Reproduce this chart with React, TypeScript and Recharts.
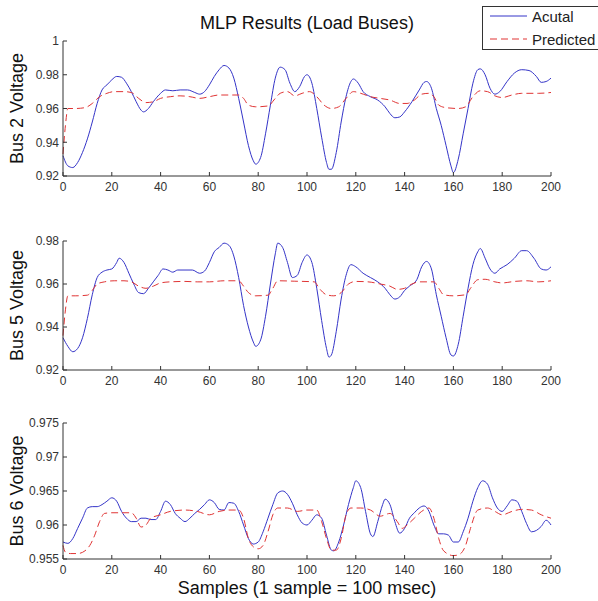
import React from "react";
import { LineChart, Line, XAxis, YAxis } from "recharts";

// [sample, voltage] pairs
const bus2Actual: [number, number][] = [
  [0, 0.932], [2, 0.926], [4, 0.925], [6, 0.928], [8, 0.934], [10, 0.942], [12, 0.952], [14, 0.963],
  [16, 0.971], [18, 0.974], [20, 0.977], [22, 0.979], [24, 0.9785], [26, 0.975], [28, 0.97], [30, 0.964],
  [32, 0.959], [33, 0.958], [35, 0.96], [37, 0.964], [40, 0.969], [42, 0.971], [45, 0.9705], [48, 0.971],
  [51, 0.971], [54, 0.9695], [56, 0.9685], [58, 0.97], [60, 0.974], [62, 0.979], [64, 0.983], [66, 0.9855],
  [68, 0.984], [70, 0.978], [72, 0.966], [74, 0.952], [76, 0.938], [78, 0.929], [79, 0.927], [81, 0.931],
  [83, 0.945], [85, 0.962], [87, 0.978], [89, 0.9845], [91, 0.983], [93, 0.975], [95, 0.97], [97, 0.973],
  [99, 0.979], [100, 0.98], [102, 0.975], [104, 0.96], [106, 0.943], [108, 0.928], [109, 0.924], [110, 0.924],
  [112, 0.934], [114, 0.952], [116, 0.967], [118, 0.976], [119, 0.9775], [121, 0.975], [123, 0.97], [126, 0.967],
  [129, 0.965], [132, 0.961], [134, 0.957], [136, 0.9545], [138, 0.955], [140, 0.958], [143, 0.964], [146, 0.971],
  [148, 0.9755], [149, 0.976], [151, 0.972], [153, 0.96], [155, 0.95], [157, 0.938], [159, 0.926], [160, 0.922],
  [162, 0.93], [164, 0.945], [166, 0.96], [168, 0.975], [170, 0.983], [171, 0.9835], [173, 0.98], [175, 0.972],
  [177, 0.9685], [179, 0.97], [182, 0.976], [185, 0.981], [188, 0.983], [191, 0.9825], [194, 0.979], [196, 0.9755],
  [198, 0.976], [200, 0.978],
];

const bus2Predicted: [number, number][] = [
  [0, 0.933], [1, 0.95], [2, 0.96], [5, 0.96], [9, 0.9605], [12, 0.963], [15, 0.967], [18, 0.969],
  [21, 0.97], [25, 0.97], [28, 0.9695], [31, 0.966], [34, 0.9635], [37, 0.964], [40, 0.966], [44, 0.967],
  [48, 0.9675], [52, 0.967], [56, 0.966], [60, 0.967], [64, 0.968], [68, 0.968], [72, 0.968], [74, 0.966],
  [76, 0.962], [79, 0.961], [84, 0.9615], [87, 0.966], [89, 0.969], [92, 0.97], [95, 0.9675], [98, 0.969],
  [101, 0.97], [104, 0.967], [107, 0.962], [110, 0.96], [113, 0.961], [116, 0.966], [119, 0.97], [122, 0.969],
  [126, 0.967], [130, 0.966], [134, 0.965], [138, 0.963], [141, 0.963], [144, 0.965], [147, 0.9685], [150, 0.969],
  [152, 0.967], [154, 0.962], [157, 0.9605], [162, 0.96], [165, 0.961], [168, 0.967], [171, 0.9705], [174, 0.97],
  [177, 0.9675], [180, 0.9665], [184, 0.968], [188, 0.969], [195, 0.969], [200, 0.9695],
];

const bus5Actual: [number, number][] = [
  [0, 0.935], [2, 0.931], [4, 0.9285], [6, 0.93], [8, 0.935], [10, 0.944], [12, 0.955], [14, 0.963],
  [16, 0.9655], [18, 0.9665], [20, 0.967], [22, 0.97], [23, 0.972], [25, 0.97], [27, 0.965], [29, 0.96],
  [31, 0.956], [33, 0.9555], [35, 0.958], [37, 0.961], [39, 0.964], [41, 0.967], [43, 0.9665], [45, 0.9655],
  [47, 0.9665], [50, 0.9665], [53, 0.9665], [56, 0.965], [58, 0.966], [60, 0.97], [62, 0.975], [64, 0.977],
  [66, 0.979], [68, 0.978], [70, 0.973], [72, 0.963], [74, 0.95], [76, 0.94], [78, 0.933], [79, 0.931],
  [81, 0.934], [83, 0.945], [85, 0.96], [87, 0.974], [88, 0.979], [90, 0.977], [92, 0.97], [94, 0.963],
  [96, 0.964], [98, 0.97], [100, 0.9735], [102, 0.97], [104, 0.958], [106, 0.943], [108, 0.93], [109, 0.926],
  [110, 0.927], [112, 0.938], [114, 0.953], [116, 0.964], [118, 0.969], [120, 0.968], [123, 0.965], [126, 0.963],
  [129, 0.961], [132, 0.958], [134, 0.955], [136, 0.953], [138, 0.954], [140, 0.957], [142, 0.959], [145, 0.962],
  [147, 0.968], [149, 0.9705], [151, 0.967], [153, 0.955], [155, 0.945], [157, 0.935], [159, 0.927], [160, 0.9265],
  [162, 0.932], [164, 0.945], [166, 0.958], [168, 0.969], [170, 0.975], [171, 0.9765], [173, 0.972], [175, 0.967],
  [177, 0.965], [179, 0.967], [182, 0.969], [185, 0.972], [188, 0.9755], [190, 0.9755], [193, 0.972], [196, 0.967],
  [198, 0.9665], [200, 0.968],
];

const bus5Predicted: [number, number][] = [
  [0, 0.936], [1, 0.948], [2, 0.9545], [5, 0.9545], [10, 0.9548], [12, 0.957], [14, 0.96], [17, 0.961],
  [21, 0.9615], [25, 0.9615], [28, 0.961], [31, 0.959], [34, 0.958], [37, 0.959], [40, 0.9605], [44, 0.961],
  [50, 0.9612], [55, 0.961], [60, 0.961], [66, 0.9615], [72, 0.9615], [74, 0.959], [76, 0.956], [79, 0.9545],
  [84, 0.9548], [86, 0.958], [88, 0.9615], [95, 0.9613], [103, 0.961], [105, 0.958], [108, 0.955], [111, 0.9545],
  [114, 0.956], [117, 0.96], [120, 0.9612], [125, 0.961], [130, 0.96], [134, 0.959], [137, 0.9575], [140, 0.958],
  [143, 0.96], [146, 0.961], [152, 0.961], [154, 0.958], [156, 0.955], [160, 0.9545], [165, 0.955], [167, 0.958],
  [170, 0.962], [173, 0.9622], [177, 0.961], [180, 0.9605], [185, 0.9612], [190, 0.9615], [195, 0.961], [200, 0.9615],
];

const bus6Actual: [number, number][] = [
  [0, 0.9575], [2, 0.9573], [4, 0.958], [6, 0.9595], [8, 0.961], [10, 0.9625], [12, 0.9627], [14, 0.9627],
  [16, 0.963], [18, 0.9635], [20, 0.964], [22, 0.9635], [24, 0.962], [26, 0.961], [28, 0.9605], [30, 0.9605],
  [32, 0.961], [34, 0.961], [36, 0.9608], [38, 0.9608], [40, 0.962], [42, 0.9635], [44, 0.963], [46, 0.9617],
  [48, 0.961], [50, 0.9605], [52, 0.961], [54, 0.9617], [56, 0.9623], [58, 0.963], [60, 0.9637], [62, 0.9633],
  [64, 0.9623], [66, 0.9622], [68, 0.9633], [70, 0.9632], [72, 0.962], [74, 0.96], [76, 0.958], [78, 0.9572],
  [80, 0.9575], [82, 0.959], [84, 0.961], [86, 0.963], [88, 0.9647], [90, 0.965], [92, 0.9645], [94, 0.9632],
  [96, 0.9615], [98, 0.9603], [100, 0.96], [102, 0.9607], [104, 0.9615], [106, 0.961], [108, 0.9585], [110, 0.9563],
  [111, 0.9562], [113, 0.9575], [115, 0.96], [117, 0.963], [119, 0.9655], [120, 0.9665], [122, 0.9655], [124, 0.962],
  [126, 0.9587], [127, 0.9583], [129, 0.9605], [131, 0.963], [132, 0.9638], [134, 0.963], [136, 0.9605], [138, 0.9588],
  [140, 0.9595], [142, 0.961], [144, 0.9618], [146, 0.9625], [148, 0.9628], [150, 0.962], [152, 0.96], [154, 0.9587],
  [156, 0.9587], [158, 0.9585], [160, 0.9575], [162, 0.9575], [164, 0.959], [166, 0.961], [168, 0.9635], [170, 0.9655],
  [172, 0.9665], [174, 0.966], [176, 0.964], [178, 0.9625], [180, 0.962], [182, 0.9628], [184, 0.9637], [186, 0.9635],
  [188, 0.962], [190, 0.9602], [192, 0.959], [194, 0.9592], [196, 0.9598], [198, 0.9607], [200, 0.96],
];

const bus6Predicted: [number, number][] = [
  [0, 0.957], [1, 0.956], [3, 0.9558], [6, 0.9558], [9, 0.9562], [11, 0.957], [13, 0.9585], [15, 0.9605],
  [17, 0.9617], [20, 0.9618], [24, 0.9618], [28, 0.9618], [30, 0.961], [32, 0.9597], [34, 0.96], [36, 0.961],
  [40, 0.9615], [44, 0.962], [50, 0.9622], [55, 0.962], [60, 0.9615], [64, 0.962], [68, 0.9622], [72, 0.9622],
  [74, 0.961], [76, 0.958], [78, 0.9568], [80, 0.9565], [82, 0.957], [84, 0.959], [86, 0.9615], [88, 0.9625],
  [92, 0.9625], [96, 0.962], [100, 0.9622], [104, 0.9622], [106, 0.9605], [108, 0.958], [110, 0.9563], [112, 0.9563],
  [114, 0.958], [116, 0.9615], [118, 0.9625], [122, 0.9625], [126, 0.9622], [130, 0.9613], [134, 0.9617], [137, 0.9605],
  [139, 0.9595], [141, 0.96], [144, 0.961], [147, 0.962], [150, 0.9625], [152, 0.961], [154, 0.958], [156, 0.9562],
  [160, 0.9555], [162, 0.9556], [165, 0.957], [167, 0.9595], [170, 0.9622], [174, 0.9625], [177, 0.962], [180, 0.9615],
  [184, 0.962], [188, 0.9623], [192, 0.9622], [196, 0.9615], [200, 0.961],
];

const xTicks = [0, 20, 40, 60, 80, 100, 120, 140, 160, 180, 200];
const bus2Ticks = [0.92, 0.94, 0.96, 0.98, 1];
const bus5Ticks = [0.92, 0.94, 0.96, 0.98];
const bus6Ticks = [0.955, 0.96, 0.965, 0.97, 0.975];

const FONT = "'Liberation Sans', Arial, sans-serif";
const BLUE = "#3434c8";
const RED = "#e03434";
const AXIS = "#333";

const toRows = (pts: [number, number][]) => pts.map(([x, v]) => ({ x, v }));
const fmt = (v: number) => String(Number(v.toFixed(3)));

interface PanelProps {
  top: number;
  plotH: number;
  actual: [number, number][];
  predicted: [number, number][];
  yTicks: number[];
}

function Panel({ top, plotH, actual, predicted, yTicks }: PanelProps) {
  const domain = [yTicks[0], yTicks[yTicks.length - 1]];
  const tick = { fill: "#333", fontSize: 12, fontFamily: FONT };
  return (
    <div style={{ position: "absolute", left: 0, top: top - 8 }}>
      <LineChart width={598} height={plotH + 8 + 24} margin={{ top: 8, right: 47, bottom: 0, left: 0 }}>
        <XAxis
          dataKey="x"
          type="number"
          domain={[0, 200]}
          ticks={xTicks}
          interval={0}
          height={24}
          tickSize={-4}
          tickMargin={10}
          tick={tick}
          stroke={AXIS}
          axisLine={{ stroke: AXIS }}
          tickLine={{ stroke: AXIS }}
        />
        <XAxis
          xAxisId="top"
          dataKey="x"
          type="number"
          orientation="top"
          domain={[0, 200]}
          ticks={xTicks}
          interval={0}
          height={0}
          tickSize={-4}
          tick={false}
          stroke={AXIS}
        />
        <YAxis
          type="number"
          domain={domain}
          ticks={yTicks}
          interval={0}
          width={63}
          tickSize={-4}
          tickMargin={8}
          tickFormatter={fmt}
          tick={tick}
          stroke={AXIS}
        />
        <YAxis
          yAxisId="right"
          type="number"
          orientation="right"
          domain={domain}
          ticks={yTicks}
          interval={0}
          width={0}
          tickSize={-4}
          tick={false}
          stroke={AXIS}
        />
        <Line
          data={toRows(actual)}
          dataKey="v"
          type="monotone"
          stroke={BLUE}
          strokeWidth={1}
          dot={false}
          isAnimationActive={false}
        />
        <Line
          data={toRows(predicted)}
          dataKey="v"
          type="monotone"
          stroke={RED}
          strokeWidth={1}
          strokeDasharray="7 4"
          dot={false}
          isAnimationActive={false}
        />
      </LineChart>
    </div>
  );
}

const panels = [
  { top: 41, plotH: 135, actual: bus2Actual, predicted: bus2Predicted, yTicks: bus2Ticks, label: "Bus 2 Voltage" },
  { top: 241, plotH: 129, actual: bus5Actual, predicted: bus5Predicted, yTicks: bus5Ticks, label: "Bus 5 Voltage" },
  { top: 423, plotH: 136, actual: bus6Actual, predicted: bus6Predicted, yTicks: bus6Ticks, label: "Bus 6 Voltage" },
];

export default function App() {
  return (
    <div style={{ position: "absolute", left: 0, top: 0, width: 598, height: 601, background: "#fff", overflow: "hidden" }}>
      {panels.map((p) => (
        <Panel key={p.label} top={p.top} plotH={p.plotH} actual={p.actual} predicted={p.predicted} yTicks={p.yTicks} />
      ))}
      <svg width={598} height={601} style={{ position: "absolute", left: 0, top: 0, pointerEvents: "none" }} fontFamily={FONT}>
        <text x={307} y={29} textAnchor="middle" fontSize={18} fill="#111">
          MLP Results (Load Buses)
        </text>
        {panels.map((p) => (
          <text
            key={p.label}
            transform={`translate(23, ${p.top + p.plotH / 2}) rotate(-90)`}
            textAnchor="middle"
            fontSize={18}
            fill="#111"
          >
            {p.label}
          </text>
        ))}
        <text x={307} y={594} textAnchor="middle" fontSize={18} fill="#111">
          Samples (1 sample = 100 msec)
        </text>
        <rect x={482.5} y={6.5} width={116} height={43} fill="#fff" stroke={AXIS} />
        <line x1={490} x2={527} y1={16} y2={16} stroke={BLUE} strokeWidth={1} />
        <text x={532} y={16} dominantBaseline="central" fontSize={15} fill="#222">
          Acutal
        </text>
        <line x1={490} x2={527} y1={39} y2={39} stroke={RED} strokeWidth={1} strokeDasharray="7 4" />
        <text x={532} y={39} dominantBaseline="central" fontSize={15} fill="#222">
          Predicted
        </text>
      </svg>
    </div>
  );
}
